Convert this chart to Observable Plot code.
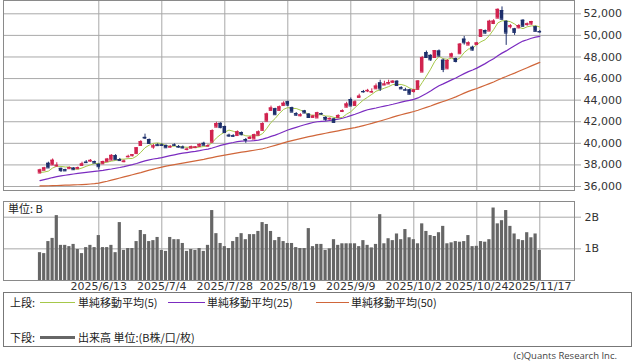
<!DOCTYPE html>
<html><head><meta charset="utf-8">
<script src="https://cdn.jsdelivr.net/npm/d3@7"></script>
<script src="https://cdn.jsdelivr.net/npm/@observablehq/plot@0.6"></script>
<style>
body{margin:0;background:#fff;}
#wrap{position:relative;width:638px;height:362px;overflow:hidden;background:#fff;font-family:"DejaVu Sans",sans-serif;}
.abs{position:absolute;}
.jp{font-family:"Noto Sans CJK JP","DejaVu Sans",sans-serif;color:#222;font-size:11px;line-height:13px;white-space:nowrap;}
.ln{position:absolute;}
</style></head><body>
<div id="wrap">
  <div id="price" class="abs" style="left:0;top:0"></div>
  <div id="vol" class="abs" style="left:0;top:195px"></div>
  <div class="abs jp" style="left:8px;top:202px;">単位: B</div>
  <div id="legend" class="abs" style="left:3px;top:292px;width:629px;height:55px;border:1px solid #777;box-sizing:border-box;"></div>
  <div class="abs" style="right:21px;top:349px;font-family:'Open Sans',sans-serif;font-size:9.5px;color:#444;">(c)Quants Research Inc.</div>
</div>
<script>
// ---------- data ----------
const dates = ("5/26 5/27 5/28 5/29 5/30 6/2 6/3 6/4 6/5 6/6 6/9 6/10 6/11 6/12 6/13 6/16 6/17 6/18 6/19 6/20 " +
  "6/23 6/24 6/25 6/26 6/27 6/30 7/1 7/2 7/3 7/4 7/7 7/8 7/9 7/10 7/11 7/14 7/15 7/16 7/17 7/18 " +
  "7/22 7/23 7/24 7/25 7/28 7/29 7/30 7/31 8/1 8/4 8/5 8/6 8/7 8/8 8/12 8/13 8/14 8/15 8/18 8/19 " +
  "8/20 8/21 8/22 8/25 8/26 8/27 8/28 8/29 9/1 9/2 9/3 9/4 9/5 9/8 9/9 9/10 9/11 9/12 9/16 9/17 " +
  "9/18 9/19 9/22 9/24 9/25 9/26 9/29 9/30 10/1 10/2 10/3 10/6 10/7 10/8 10/9 10/10 10/14 10/15 10/16 10/17 " +
  "10/20 10/21 10/22 10/23 10/24 10/27 10/28 10/29 10/30 10/31 11/4 11/5 11/6 11/7 11/10 11/11 11/12 11/13 11/14 11/17").split(" ");
const year = "2025";

const open = [
37250,37500,38150,38000,37900, 37680,37550,37650,37700,37650,
37950,38250,38350,38300,38050, 38100,38300,38450,38850,38500,
38300,38750,38850,39050,39800, 40550,40350,39650,39850,39850,
39800,39650,39850,39700,39650, 39450,39550,39600,39720,40000,
39750,40100,41500,41850,41550, 40750,40700,40720,41000,40350,
40450,40400,40750,41200,42050, 43050,43200,43050,43500,43850,
43300,42750,42550,43000,42700, 42400,42350,42750,42400,42250,
42250,42400,42950,43350,44050, 43500,44250,44800,44850,44750,
45050,45600,45400,45500,45650, 45750,45150,44950,44950,44800,
45000,46600,48400,48150,47950, 48550,47700,46900,48000,47850,
48300,49650,49100,48900,49150, 49900,50450,50400,51100,51600,
52300,51300,50800,50600,50700, 51400,51000,51050,50800,50350];
const high = [
37600,37780,38250,38550,38200, 37700,37600,37800,37750,37800,
38250,38400,38500,38350,38100, 38350,38600,38950,38950,38600,
38450,38900,38950,39600,40250, 40850,40400,39900,39950,39950,
39850,39800,39950,39800,39750, 39550,39750,39700,39950,40100,
39900,41250,41950,41900,41600, 40850,40800,41150,41050,40450,
40650,40850,41150,41900,42800, 43450,43250,43450,43850,43900,
43350,42850,42750,43050,42750, 42600,42880,42800,42450,42350,
42300,42650,43100,43800,44200, 43950,44550,44900,45000,45050,
45500,45850,45750,45850,45800, 45800,45250,45100,45000,45000,
45800,48050,48550,48200,48600, 48650,47800,47750,48350,47900,
49250,49900,49400,49000,49350, 50550,50500,51400,51450,52450,
52636,51350,51000,50650,51000, 51450,51150,51300,50850,50450];
const low = [
37180,37450,37700,37950,37800, 37300,37400,37600,37500,37600,
37900,38150,38250,38150,37550, 38050,38250,38400,38450,38350,
38200,38650,38750,39000,39750, 40350,39900,39450,39750,39750,
39550,39550,39700,39550,39500, 39300,39500,39550,39650,39800,
39650,40050,41450,41350,40950, 40550,40550,40700,40700,40000,
40350,40350,40700,41150,42000, 43000,42600,43000,43450,43400,
42850,42500,42450,42750,42300, 42350,42300,42600,42050,42150,
41850,42350,42850,43300,43400, 43450,44200,44650,44700,44650,
45000,44800,45350,45450,45550, 45300,45000,44850,44500,44650,
44950,46550,47900,47600,47900, 48000,46550,46850,47950,47450,
48250,49100,49050,48550,49100, 49850,50100,50350,51000,51550,
51400,49074,50600,50000,50600, 50800,50850,50950,50350,50200];
const close = [
37531,37724,37722,38432,37965, 37470,37446,37747,37554,37741,
38088,38211,38421,38173,37834, 38311,38536,38885,38488,38403,
38354,38790,38942,39584,40150, 40487,39986,39762,39785,39810,
39587,39688,39821,39646,39569, 39459,39678,39663,39901,39819,
39774,41171,41826,41456,40998, 40674,40654,41069,40799,40290,
40549,40794,41059,41820,42718, 43274,42649,43378,43714,43546,
42888,42610,42633,42807,42394, 42520,42829,42718,42188,42310,
41938,42580,43018,43643,43459, 43837,44372,44768,44902,44790,
45303,45045,45493,45630,45754, 45354,45043,44932,44550,44936,
45769,47944,47950,47734,48580, 48088,46847,47672,48277,47582,
49185,49316,49307,48641,49299, 50512,50219,51307,51325,52411,
51497,50212,50883,50276,50911, 50842,51063,51281,50376,50323];
const volume = [ // billions of shares
0.88,0.85,1.23,1.33,2.05,1.11,1.11,1.07,1.14,0.98,
0.85,1.04,1.11,1.04,1.42,1.04,1.04,1.11,0.88,1.83,
0.95,1.01,1.01,1.23,1.58,1.45,1.23,1.26,1.36,0.95,
0.92,1.36,1.29,1.29,1.17,0.92,0.98,0.95,1.01,0.92,
1.11,2.21,1.48,1.17,1.07,1.01,1.23,1.36,1.48,1.29,
1.45,1.45,1.55,1.83,1.77,1.55,1.26,1.36,1.23,1.17,
1.17,1.04,1.01,1.01,1.64,1.07,1.14,1.14,0.95,1.00,
1.29,1.11,1.16,1.16,1.16,1.16,1.07,1.26,1.11,1.03,
1.14,2.08,1.16,1.32,1.26,1.47,1.29,1.61,1.35,1.29,
1.16,1.79,1.55,1.42,1.39,1.51,1.71,1.16,1.19,1.23,
1.21,1.23,1.42,1.07,1.08,1.23,1.21,1.29,2.29,1.79,
1.89,2.21,1.71,1.47,1.29,1.26,1.51,1.35,1.47,0.95];
const ma5 = [
37301,37340,37424,37714,37875,37863,37807,37812,37636,37592,
37715,37868,38003,38127,38145,38190,38255,38348,38411,38525,
38533,38584,38595,38815,39164,39591,39830,39994,40034,39966,
39786,39726,39738,39710,39662,39637,39635,39603,39654,39704,
39767,40066,40498,40809,41045,41225,41122,40970,40839,40697,
40672,40700,40698,40902,41388,41933,42304,42768,43147,43312,
43235,43227,43078,42897,42666,42593,42637,42654,42530,42513,
42397,42347,42407,42698,42928,43307,43666,44016,44268,44534,
44827,44962,45107,45252,45445,45455,45455,45343,45127,44963,
45046,45626,46230,46867,47595,48059,47840,47784,47893,47693,
47913,48406,48733,48806,49150,49415,49596,49996,50532,51155,
51352,51350,51266,51056,50756,50625,50795,50875,50895,50777];
const ma25 = [
36540,36640,36730,36830,36910,36980,37040,37100,37160,37210,
37260,37310,37360,37410,37450,37500,37560,37620,37690,37760,
37840,37930,38020,38130,38260,38378,38469,38550,38605,38678,
38763,38853,38936,39019,39092,39147,39206,39256,39325,39404,
39463,39568,39686,39804,39908,40001,40076,40161,40209,40215,
40217,40250,40302,40383,40499,40647,40765,40907,41070,41229,
41366,41484,41603,41719,41822,41932,41998,42034,42063,42115,
42166,42243,42321,42435,42561,42693,42836,42984,43108,43191,
43272,43368,43452,43529,43617,43716,43813,43905,43975,44076,
44206,44411,44620,44842,45093,45339,45510,45696,45881,46046,
46260,46458,46639,46789,46969,47178,47385,47617,47845,48111,
48357,48564,48802,49031,49270,49473,49597,49731,49836,49906];
const ma50 = [
36050,36060,36070,36085,36095,36105,36120,36130,36145,36160,
36180,36205,36230,36260,36310,36400,36490,36590,36690,36790,
36890,36990,37090,37190,37290,37400,37510,37610,37710,37800,
37880,37960,38030,38100,38170,38240,38310,38380,38450,38520,
38600,38680,38760,38840,38910,38980,39050,39120,39180,39237,
39298,39359,39426,39494,39589,39705,39809,39922,40045,40161,
40257,40345,40429,40522,40613,40697,40783,40860,40934,41012,
41083,41159,41241,41322,41388,41455,41543,41643,41745,41845,
41959,42066,42180,42300,42423,42541,42648,42754,42847,42949,
43069,43204,43327,43453,43604,43752,43876,44008,44158,44304,
44476,44647,44812,44948,45080,45225,45376,45535,45687,45864,
46036,46188,46353,46503,46673,46840,47004,47176,47339,47500];

const tickLabels = ["2025/6/13","2025/7/4","2025/7/28","2025/8/19","2025/9/9","2025/10/2","2025/10/24","2025/11/17"];
const priceTicks = [36000,38000,40000,42000,44000,46000,48000,50000,52000];
const volTicks = [1, 2];
const volTickLabels = ["1B", "2B"];

const legendTop = [
  {label: "単純移動平均(5)", color: "#a6c84a"},
  {label: "単純移動平均(25)", color: "#7b2cc0"},
  {label: "単純移動平均(50)", color: "#d0663a"}
];
const legendBottom = {label: "出来高 単位:(B株/口/枚)", color: "#666666"};

// ---------- build ----------
const UP = "#d0234f", DN = "#1d2f6b", GRID = "#a9a9a9", BORDER = "#8a8a8a";
const candles = dates.map((d, i) => ({i, o: open[i], h: high[i], l: low[i], c: close[i]}));
const ups = candles.filter(d => d.c >= d.o);
const downs = candles.filter(d => d.c < d.o);
const tickIdx = tickLabels.map(t => dates.indexOf(t.slice(year.length + 1)));
const xScale = {type: "linear", domain: [0, dates.length - 1], range: [39.5, 539.3], axis: null};
const bw = 0.42;

function candleMarks(set, color) {
  return [
    Plot.ruleX(set, {x: "i", y1: "l", y2: "h", stroke: color}),
    Plot.rect(set, {x1: d => d.i - bw, x2: d => d.i + bw, y1: "o", y2: "c", fill: color}),
    Plot.ruleY(set, {x1: d => d.i - bw, x2: d => d.i + bw, y: "o", stroke: color}),
    Plot.ruleY(set, {x1: d => d.i - bw, x2: d => d.i + bw, y: "c", stroke: color})
  ];
}

const price = Plot.plot({
  width: 638, height: 192,
  marginTop: 0, marginLeft: 3, marginRight: 64, marginBottom: 2,
  x: xScale,
  y: {type: "linear", domain: [36000, 52000], range: [186, 13.3], axis: null},
  style: {fontFamily: "DejaVu Sans, sans-serif", fontSize: "11px", background: "#fff", color: "#333"},
  marks: [
    Plot.gridY(priceTicks, {stroke: GRID, strokeOpacity: 1}),
    Plot.gridX(tickIdx, {stroke: GRID, strokeOpacity: 1}),
    Plot.frame({stroke: BORDER}),
    Plot.axisY(priceTicks, {anchor: "right", tickSize: 6, tickPadding: 3, tickFormat: d3.format(","), stroke: GRID, fill: "#333", fontSize: 11, label: null}),
    Plot.lineY(ma50, {x: (d, i) => i, y: d => d, stroke: legendTop[2].color, strokeWidth: 1.2}),
    Plot.lineY(ma25, {x: (d, i) => i, y: d => d, stroke: legendTop[1].color, strokeWidth: 1.2}),
    Plot.lineY(ma5, {x: (d, i) => i, y: d => d, stroke: legendTop[0].color, strokeWidth: 1}),
    ...candleMarks(ups, UP),
    ...candleMarks(downs, DN)
  ]
});
document.getElementById("price").appendChild(price);

const vol = Plot.plot({
  width: 638, height: 100,
  marginTop: 6, marginLeft: 3, marginRight: 64, marginBottom: 15,
  x: xScale,
  y: {type: "linear", domain: [0, 2], range: [85, 21.7], axis: null},
  style: {fontFamily: "DejaVu Sans, sans-serif", fontSize: "11px", background: "transparent", color: "#333"},
  marks: [
    Plot.gridY(volTicks, {stroke: GRID, strokeOpacity: 1}),
    Plot.gridX(tickIdx, {stroke: GRID, strokeOpacity: 1}),
    Plot.rect(volume, {x1: (d, i) => i - 0.38, x2: (d, i) => i + 0.38, y1: 0, y2: d => d, fill: legendBottom.color}),
    Plot.frame({stroke: BORDER}),
    Plot.axisY(volTicks, {anchor: "right", tickSize: 6, tickPadding: 4, tickFormat: d => volTickLabels[volTicks.indexOf(d)], stroke: GRID, fill: "#333", fontSize: 11, label: null}),
    Plot.axisX(tickIdx, {anchor: "bottom", tickSize: 0, tickPadding: 2, tickFormat: i => tickLabels[tickIdx.indexOf(i)], fill: "#333", fontSize: 11, label: null})
  ]
});
document.getElementById("vol").appendChild(vol);

// ---------- legend ----------
const lg = document.getElementById("legend");
function add(html, left, top, extra) {
  const el = document.createElement("div");
  el.className = "abs jp";
  el.style.left = left + "px"; el.style.top = top + "px";
  if (extra) Object.assign(el.style, extra);
  el.innerHTML = html;
  lg.appendChild(el);
}
add("上段:", 6, 2.5);
const xs = [[36, 35, 74], [164, 37, 203], [312, 33, 347]];
legendTop.forEach((s, k) => {
  add("", xs[k][0], 9, {width: xs[k][1] + "px", height: "1px", background: s.color});
  add(s.label, xs[k][2], 2.5);
});
add("下段:", 6, 37.5);
add("", 36, 43, {width: "35px", height: "3px", background: legendBottom.color});
add(legendBottom.label, 74, 37.5);
</script>
</body></html>
